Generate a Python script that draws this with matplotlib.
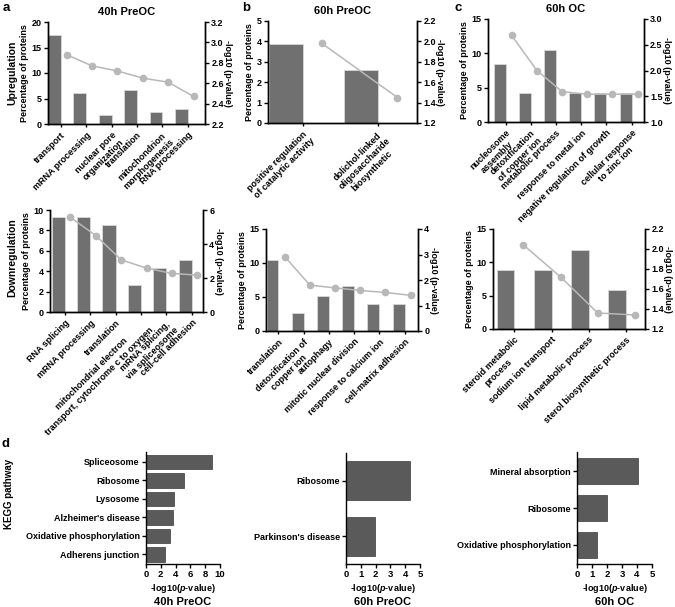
import numpy as np
import matplotlib
matplotlib.use("Agg")
import matplotlib.pyplot as plt

plt.rcParams['font.family'] = ['Liberation Sans', 'DejaVu Sans']
plt.rcParams['font.weight'] = 'bold'
plt.rcParams['axes.labelweight'] = 'bold'
plt.rcParams['axes.titleweight'] = 'bold'
plt.rcParams['mathtext.fontset'] = 'custom'
plt.rcParams['mathtext.it'] = 'Liberation Sans:bold:italic'
plt.rcParams['mathtext.rm'] = 'Liberation Sans:bold'
plt.rcParams['axes.linewidth'] = 1.0

# ---- GO terms, upregulated ----
a_up_terms = ["transport", "mRNA processing", "nuclear pore\norganization", "translation",
              "mitochondrion\nmorphogenesis", "RNA processing"]
a_up_pct = [17.5, 6.0, 1.8, 6.6, 2.4, 3.0]
a_up_logp = [2.88, 2.77, 2.72, 2.65, 2.61, 2.47]

b_up_terms = ["positive regulation\nof catalytic activity",
              "dolichol-linked\noligosaccharide\nbiosynthetic"]
b_up_pct = [3.85, 2.58]
b_up_logp = [1.98, 1.45]

c_up_terms = ["nucleosome\nassembly", "detoxification\nof copper ion", "metabolic process",
              "response to metal ion", "negative regulation of growth",
              "cellular response\nto zinc ion"]
c_up_pct = [8.4, 4.2, 10.5, 4.2, 4.2, 4.2]
c_up_logp = [2.68, 2.0, 1.59, 1.54, 1.54, 1.54]

# ---- GO terms, downregulated ----
a_dn_terms = ["RNA splicing", "mRNA processing", "translation",
              "mitochondrial electron\ntransport, cytochrome c to oxygen",
              "mRNA splicing,\nvia spliceosome", "cell-cell adhesion"]
a_dn_pct = [9.3, 9.3, 8.5, 2.6, 4.3, 5.1]
a_dn_logp = [5.57, 4.5, 3.07, 2.58, 2.27, 2.17]

b_dn_terms = ["translation", "detoxification of\ncopper ion", "autophagy",
              "mitotic nuclear division", "response to calcium ion", "cell-matrix adhesion"]
b_dn_pct = [10.4, 2.6, 5.2, 6.6, 3.9, 3.9]
b_dn_logp = [2.92, 1.80, 1.69, 1.59, 1.51, 1.40]

c_dn_terms = ["steroid metabolic\nprocess", "sodium ion transport",
              "lipid metabolic process", "sterol biosynthetic process"]
c_dn_pct = [8.8, 8.8, 11.8, 5.9]
c_dn_logp = [2.04, 1.72, 1.36, 1.34]

# ---- KEGG pathways ----
kegg_40_names = ["Spliceosome", "Ribosome", "Lysosome", "Alzheimer's disease",
                 "Oxidative phosphorylation", "Adherens junction"]
kegg_40_vals = [8.9, 5.2, 3.8, 3.6, 3.3, 2.5]
kegg_60_names = ["Ribosome", "Parkinson's disease"]
kegg_60_vals = [4.35, 1.95]
kegg_oc_names = ["Mineral absorption", "Ribosome", "Oxidative phosphorylation"]
kegg_oc_vals = [4.05, 2.0, 1.35]

W, H = 675, 607
fig = plt.figure(figsize=(W / 100, H / 100), dpi=100)

BAR = '#707070'
LINE = '#b8b8b8'
KBAR = '#5a5a5a'


def add_ax(l, t, r, b):
    return fig.add_axes([l / W, 1 - b / H, (r - l) / W, (b - t) / H])


def style(ax):
    ax.tick_params(length=3, width=1, labelsize=6.5, pad=1.5)


def go_panel(box, terms, pct, logp, ylim, yticks, y2lim, y2ticks, xlim,
             width=0.5, title=None):
    ax = add_ax(*box)
    x = np.arange(len(terms))
    ax.bar(x, pct, width=width, color=BAR, edgecolor='#d8d8d8', linewidth=0.6, zorder=2)
    ax.set_xlim(xlim)
    ax.set_ylim(ylim)
    ax.set_yticks(yticks)
    ax.set_xticks(x + width / 2)
    ax.set_xticklabels(terms, rotation=45, ha='right', va='top',
                       rotation_mode='anchor', multialignment='center')
    ax.spines['top'].set_visible(False)
    style(ax)
    ax.tick_params(axis='x', length=2.5, pad=2, labelsize=6.5)
    ax.set_ylabel('Percentage of proteins', fontsize=6.5, labelpad=2)

    ax2 = ax.twinx()
    ax2.plot(x + 0.48, logp, color=LINE, marker='o', ms=4.5, lw=1.1, zorder=3)
    ax2.set_ylim(y2lim)
    ax2.set_yticks(y2ticks)
    ax2.spines['top'].set_visible(False)
    style(ax2)
    ax2.set_ylabel('-log10 (p-value)', rotation=270, fontsize=6.5, labelpad=6)
    if title:
        ax.set_title(title, fontsize=8, pad=5)
    return ax


def kegg_panel(box, names, vals, xlim, xticks, ylim, height, title):
    ax = add_ax(*box)
    y = np.arange(len(names))[::-1]
    ax.barh(y, vals, height=height, color=KBAR, edgecolor='#3a3a3a', linewidth=0.5)
    ax.set_yticks(y)
    ax.set_yticklabels(names, fontsize=6.8)
    ax.set_ylim(ylim)
    ax.set_xlim(xlim)
    ax.set_xticks(xticks)
    ax.spines['top'].set_visible(False)
    ax.spines['right'].set_visible(False)
    style(ax)
    ax.tick_params(axis='x', labelsize=6.8)
    ax.set_xlabel(r'-log10($\mathit{p}$-value)', fontsize=6.5, labelpad=2)
    cx = (box[0] + box[2]) / 2
    fig.text(cx / W, 1 - 602 / H, title, ha='center', va='center', fontsize=8)
    return ax


# top row
go_panel((48, 22, 205, 124), a_up_terms, a_up_pct, a_up_logp, (0, 20), [0, 5, 10, 15, 20],
         (2.2, 3.2), [2.2, 2.4, 2.6, 2.8, 3.0, 3.2], (-0.25, 5.93), title='40h PreOC')
go_panel((268, 21, 417, 123), b_up_terms, b_up_pct, b_up_logp, (0, 5), [0, 1, 2, 3, 4, 5],
         (1.2, 2.2), [1.2, 1.4, 1.6, 1.8, 2.0, 2.2], (-0.235, 1.74), width=0.45,
         title='60h PreOC')
go_panel((488, 19, 644, 122), c_up_terms, c_up_pct, c_up_logp, (0, 15), [0, 5, 10, 15],
         (1.0, 3.0), [1.0, 1.5, 2.0, 2.5, 3.0], (-0.46, 5.73), width=0.47, title='60h OC')

# middle row
go_panel((50, 210, 203, 312), a_dn_terms, a_dn_pct, a_dn_logp, (0, 10), [0, 2, 4, 6, 8, 10],
         (0, 6), [0, 2, 4, 6], (-0.32, 5.7), width=0.52)
go_panel((266, 229, 418, 331), b_dn_terms, b_dn_pct, b_dn_logp, (0, 15), [0, 5, 10, 15],
         (0, 4), [0, 1, 2, 3, 4], (-0.26, 5.77), width=0.47)
go_panel((493, 229, 645, 329), c_dn_terms, c_dn_pct, c_dn_logp, (0, 15), [0, 5, 10, 15],
         (1.2, 2.2), [1.2, 1.4, 1.6, 1.8, 2.0, 2.2], (-0.34, 3.75), width=0.47)

# KEGG row
kegg_panel((146, 452, 220, 564), kegg_40_names, kegg_40_vals, (0, 10), [0, 2, 4, 6, 8, 10],
           (-0.52, 5.54), 0.8, '40h PreOC')
kegg_panel((346, 453, 420, 564), kegg_60_names, kegg_60_vals, (0, 5), [0, 1, 2, 3, 4, 5],
           (-0.5, 1.5), 0.7, '60h PreOC')
kegg_panel((577, 452, 652, 564), kegg_oc_names, kegg_oc_vals, (0, 5), [0, 1, 2, 3, 4, 5],
           (-0.52, 2.52), 0.71, '60h OC')

# panel letters and row labels
for letter, px, py in [('a', 6, 8), ('b', 246, 8), ('c', 458, 8), ('d', 6, 444)]:
    fig.text(px / W, 1 - py / H, letter, ha='center', va='center', fontsize=9.5)
fig.text(12 / W, 1 - 73 / H, 'Upregulation', rotation=90, ha='center', va='center', fontsize=7.5)
fig.text(12 / W, 1 - 258 / H, 'Downregulation', rotation=90, ha='center', va='center', fontsize=7.5)
fig.text(9 / W, 1 - 494 / H, 'KEGG pathway', rotation=90, ha='center', va='center', fontsize=7)

fig.savefig('out.png', dpi=100)
